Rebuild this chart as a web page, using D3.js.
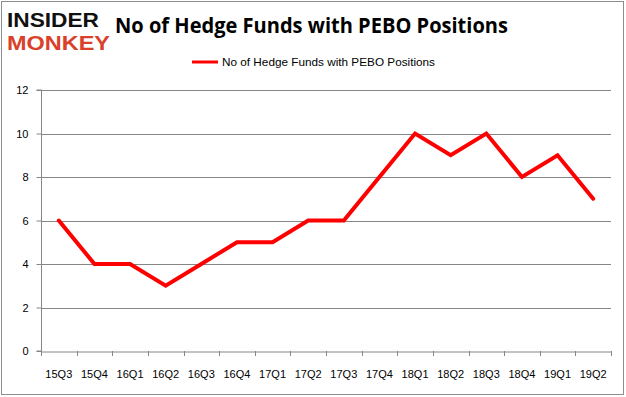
<!DOCTYPE html>
<html><head><meta charset="utf-8">
<script src="https://cdn.jsdelivr.net/npm/d3@7"></script>
<style>body{margin:0;background:#fff}svg{display:block}</style>
</head><body><svg id="c" width="626" height="397"></svg>
<script>
const categories = ["15Q3","15Q4","16Q1","16Q2","16Q3","16Q4","17Q1","17Q2","17Q3","17Q4","18Q1","18Q2","18Q3","18Q4","19Q1","19Q2"];
const values = [6,4,4,3,4,5,5,6,6,8,10,9,10,8,9,7];
const yTicks = [0,2,4,6,8,10,12];
const seriesName = "No of Hedge Funds with PEBO Positions";
const title = "No of Hedge Funds with PEBO Positions";

const svg = d3.select("#c");
const font = "'Liberation Sans', Arial, sans-serif";
svg.append("rect").attr("x",1.5).attr("y",1.5).attr("width",622).attr("height",393)
  .attr("fill","#fff").attr("stroke","#8c8c8c").attr("stroke-width",1);

const L=41, R=611, T=90, B=351;
const x = d3.scaleBand().domain(categories).range([L,R]);
const y = d3.scaleLinear().domain([0,12]).range([B,T]);

// grid
svg.append("g").selectAll("line").data(yTicks.filter(d=>d>0)).join("line")
  .attr("x1",L).attr("x2",R).attr("y1",d=>Math.round(y(d))+0.5).attr("y2",d=>Math.round(y(d))+0.5)
  .attr("stroke","#868686").attr("stroke-width",1);

// y axis
const ya = svg.append("g").attr("transform",`translate(${L+0.5},0)`)
  .call(d3.axisLeft(y).tickValues(yTicks).tickSize(5).tickPadding(8));
ya.select(".domain").attr("stroke","#868686").attr("d",`M-5,${T}H0V${B}H-5`);
ya.selectAll(".tick line").attr("stroke","#868686");
ya.selectAll(".tick text").attr("font-family",font).attr("font-size",11).attr("fill","#000");

// x axis
const xa = svg.append("g").attr("transform",`translate(0,${B+0.5})`)
  .call(d3.axisBottom(x).tickSize(0).tickPadding(19));
xa.select(".domain").attr("stroke","#868686");
xa.selectAll(".tick text").attr("font-family",font).attr("font-size",11).attr("fill","#000");
// tick marks at band boundaries
const bounds = categories.map(c=>x(c)).concat([R]);
svg.append("g").selectAll("line").data(bounds).join("line")
  .attr("x1",d=>Math.round(d)+0.5).attr("x2",d=>Math.round(d)+0.5)
  .attr("y1",B).attr("y2",B+5).attr("stroke","#868686");

// line
const line = d3.line().x((d,i)=>x(categories[i])+x.bandwidth()/2).y(d=>y(d));
svg.append("path").datum(values).attr("d",line).attr("fill","none")
  .attr("stroke","#ff0000").attr("stroke-width",4).attr("stroke-linejoin","miter").attr("stroke-linecap","round");

// legend
svg.append("line").attr("x1",192).attr("x2",218).attr("y1",62).attr("y2",62)
  .attr("stroke","#ff0000").attr("stroke-width",3);
svg.append("text").attr("x",222).attr("y",66).attr("font-family",font).attr("font-size",11)
  .attr("textLength",213).attr("lengthAdjust","spacingAndGlyphs").text(seriesName);

// title
svg.append("text").attr("x",115).attr("y",33).attr("font-family","'Open Sans', "+font).attr("font-weight","bold")
  .attr("font-size",21).attr("textLength",393).attr("lengthAdjust","spacingAndGlyphs").text(title);

// logo
svg.append("text").attr("x",7).attr("y",27).attr("font-family",font).attr("font-weight","bold")
  .attr("font-size",19.5).attr("textLength",92).attr("lengthAdjust","spacingAndGlyphs").attr("fill","#111").text("INSIDER");
svg.append("text").attr("x",7).attr("y",49.5).attr("font-family",font).attr("font-weight","bold")
  .attr("font-size",19.5).attr("textLength",103).attr("lengthAdjust","spacingAndGlyphs").attr("fill","#d9412b").text("MONKEY");
</script></body></html>
